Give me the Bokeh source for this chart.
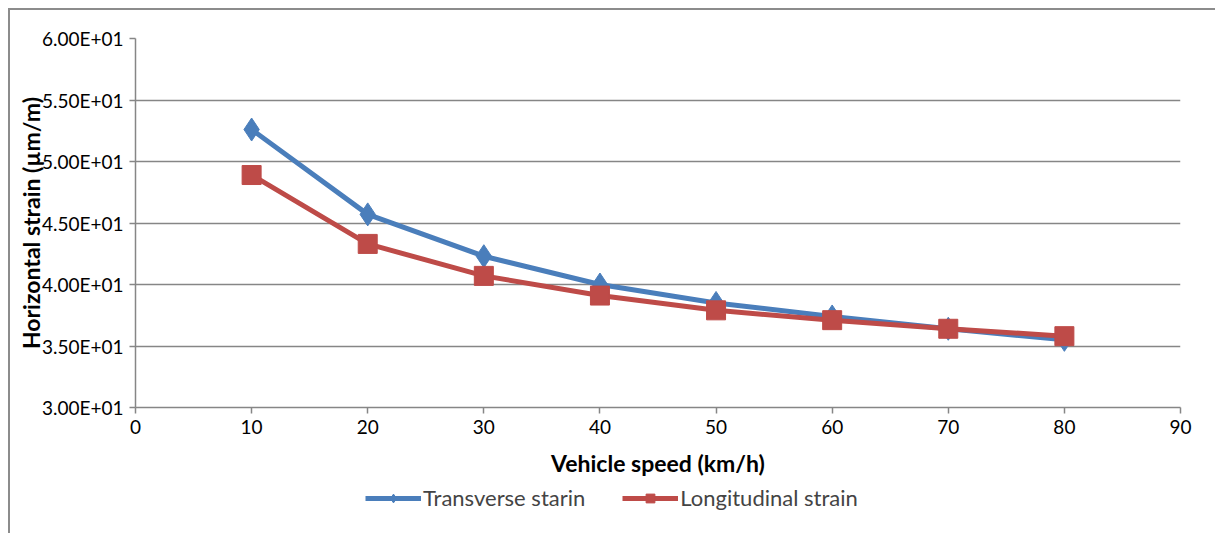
from bokeh.plotting import figure
from bokeh.layouts import column
from bokeh.models import Legend, LegendItem, FixedTicker
from bokeh.embed import file_html
from bokeh.resources import INLINE

speed = [10, 20, 30, 40, 50, 60, 70, 80]
transverse = [52.6, 45.7, 42.3, 40.0, 38.5, 37.4, 36.4, 35.5]
longitudinal = [48.9, 43.3, 40.7, 39.1, 37.9, 37.1, 36.4, 35.8]
x_ticks = [0, 10, 20, 30, 40, 50, 60, 70, 80, 90]
y_ticks = [30, 35, 40, 45, 50, 55, 60]
y_tick_labels = ["3.00E+01", "3.50E+01", "4.00E+01", "4.50E+01", "5.00E+01", "5.50E+01", "6.00E+01"]

BLUE = "#4A7EBB"
RED = "#BE4B48"
GRAY = "#868686"
FONT = "Lato"

p = figure(width=1207, height=472, frame_width=1045, frame_height=369,
           x_range=(0, 90), y_range=(30, 60),
           output_backend="svg", toolbar_location=None,
           min_border_left=125, min_border_right=33, min_border_top=28, min_border_bottom=75)
p.outline_line_color = None
p.background_fill_color = "white"
p.border_fill_color = "white"

p.xgrid.grid_line_color = None
p.ygrid.grid_line_color = GRAY
p.ygrid.grid_line_width = 1.5
p.ygrid.ticker = FixedTicker(ticks=y_ticks)

p.xaxis.ticker = FixedTicker(ticks=x_ticks)
p.yaxis.ticker = FixedTicker(ticks=y_ticks)
p.yaxis.major_label_overrides = {t: l for t, l in zip(y_ticks, y_tick_labels)}
for ax in (p.xaxis[0], p.yaxis[0]):
    ax.axis_line_color = GRAY
    ax.axis_line_width = 1.5
    ax.major_tick_line_color = GRAY
    ax.major_tick_line_width = 1.5
    ax.major_tick_in = 0
    ax.major_tick_out = 6
    ax.minor_tick_line_color = None
    ax.major_label_text_font = FONT
    ax.major_label_text_font_size = "19px"
    ax.major_label_text_color = "black"
    ax.axis_label_text_font = FONT
    ax.axis_label_text_font_style = "bold"
    ax.axis_label_text_font_size = "23px"
    ax.axis_label_text_color = "black"

p.xaxis.axis_label = "Vehicle speed (km/h)"
p.xaxis.major_label_standoff = 6
p.xaxis.axis_label_standoff = 12
p.yaxis.axis_label = "Horizontal strain (µm/m)"
p.yaxis.major_label_standoff = 6
p.yaxis.axis_label_standoff = -6

p.line(speed, transverse, line_color=BLUE, line_width=5)
p.scatter(speed, transverse, marker="diamond", size=23, fill_color=BLUE, line_color=BLUE)
p.line(speed, longitudinal, line_color=RED, line_width=5)
p.scatter(speed, longitudinal, marker="square", size=19, fill_color=RED, line_color=RED)

# legend strip below the chart (same series, drawn off-range so only the legend shows)
lg = figure(width=1207, height=53, x_range=(1000, 1001), y_range=(1000, 1001),
            output_backend="svg", toolbar_location=None,
            x_axis_location=None, y_axis_location=None,
            min_border=0, min_border_left=0, min_border_right=0,
            min_border_top=0, min_border_bottom=0)
lg.outline_line_color = None
lg.xgrid.grid_line_color = None
lg.ygrid.grid_line_color = None
lg.background_fill_color = "white"
lg.border_fill_color = "white"
k1 = lg.line(speed, transverse, line_color=BLUE, line_width=5)
s1 = lg.scatter(speed, transverse, marker="diamond", size=23, fill_color=BLUE, line_color=BLUE)
k2 = lg.line(speed, longitudinal, line_color=RED, line_width=5)
s2 = lg.scatter(speed, longitudinal, marker="square", size=19, fill_color=RED, line_color=RED)

legend = Legend(items=[LegendItem(label="Transverse starin", renderers=[k1, s1]),
                       LegendItem(label="Longitudinal strain", renderers=[k2, s2])],
                orientation="horizontal", location=(230, 24),
                border_line_color=None, background_fill_alpha=0,
                label_text_font=FONT, label_text_font_size="22px",
                glyph_width=56, glyph_height=22, label_height=22, label_standoff=2, spacing=37,
                padding=2, margin=0)
lg.add_layout(legend, "center")

layout = column(p, lg, margin=(8, 0, 0, 8), spacing=0)
layout.styles = {"border-left": "2px solid #8c8c8c", "border-top": "2px solid #8c8c8c"}

open("out.html", "w").write(file_html(layout, INLINE))
